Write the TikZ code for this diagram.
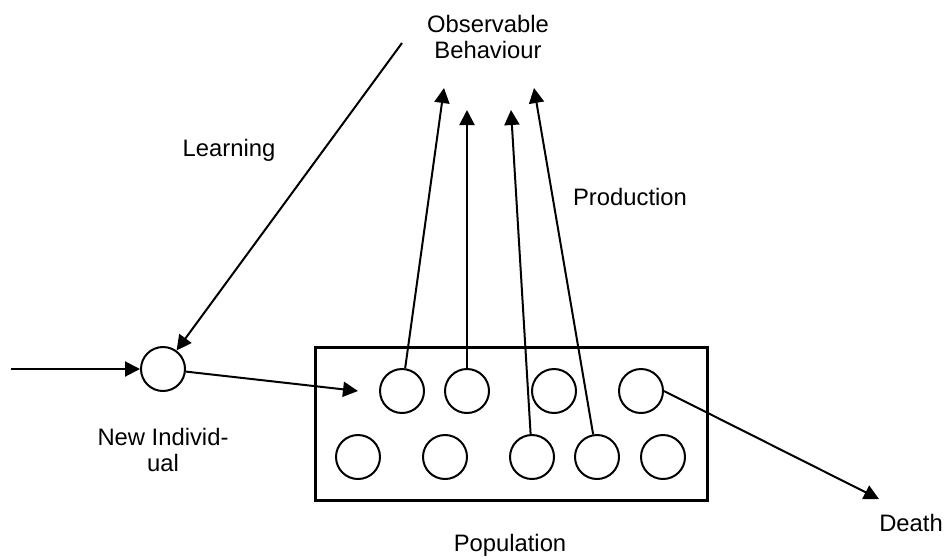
\documentclass[tikz,border=0pt]{standalone}
\usepackage{fontspec}
\setmainfont{Liberation Sans}
\usetikzlibrary{arrows.meta}
\begin{document}
\begin{tikzpicture}[x=0.5pt, y=-0.5pt,
  indiv/.style={draw, shape=circle, line width=1pt, minimum size=22pt, inner sep=0pt},
  lbl/.style={align=center, font=\fontsize{11.9}{13}\selectfont},
  arr/.style={-{Triangle[length=7.5pt,width=7.5pt]}, line width=1pt}]
\useasboundingbox (0,0) rectangle (946,558);
% population
\node (pop) [draw, shape=rectangle, line width=1.5pt, minimum width=196pt,
  minimum height=76.5pt, inner sep=0pt] at (511,423.5) {};
\node (c1) [indiv] at (402,391) {};
\node (c2) [indiv] at (467,391) {};
\node (c3) [indiv] at (554,391) {};
\node (c4) [indiv] at (641,391) {};
\node (d1) [indiv] at (358,457) {};
\node (d2) [indiv] at (445,457) {};
\node (d3) [indiv] at (532,457) {};
\node (d4) [indiv] at (597,457) {};
\node (d5) [indiv] at (663,457) {};
\node (newind) [indiv] at (163,369) {};
% labels
\node (obs) [lbl] at (488,37) {Observable\\Behaviour};
\node (learn) [lbl] at (229,150) {Learning};
\node (prod) [lbl] at (630,197) {Production};
\node (newlbl) [lbl] at (163,450) {New Individ-\\ual};
\node (poplbl) [lbl] at (510,545) {Population};
\node (death) [lbl] at (911,523) {Death};
% free ends
\coordinate (instart) at (11,369);
\coordinate (lrnstart) at (402,43);
\coordinate (entry) at (358,391);
\coordinate (obs1) at (444,88);
\coordinate (obs2) at (467,110);
\coordinate (obs3) at (511,110);
\coordinate (obs4) at (534,88);
\coordinate (dth) at (879,499);
\draw[arr] (instart) -- (newind);
\draw[arr] (lrnstart) -- (newind);
\draw[arr] (newind) -- (entry);
\draw[arr] (c1) -- (obs1);
\draw[arr] (c2) -- (obs2);
\draw[arr] (d3) -- (obs3);
\draw[arr] (d4) -- (obs4);
\draw[arr] (c4.east) -- (dth);
\end{tikzpicture}
\end{document}
